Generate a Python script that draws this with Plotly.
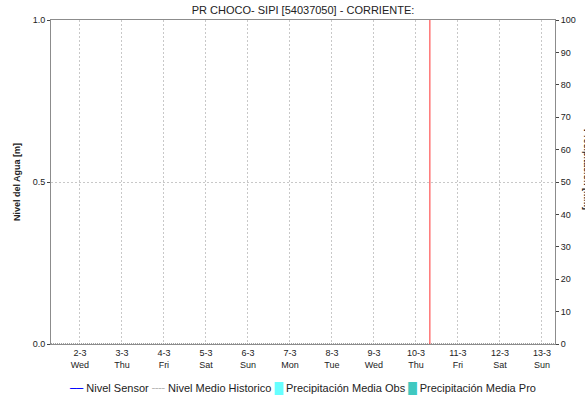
import plotly.graph_objects as go

# ---- data ----
range_start = "2022-03-01 07:30"
range_end = "2022-03-13 07:30"
tick_dates = ["2022-03-02", "2022-03-03", "2022-03-04", "2022-03-05", "2022-03-06", "2022-03-07",
              "2022-03-08", "2022-03-09", "2022-03-10", "2022-03-11", "2022-03-12", "2022-03-13"]
tick_labels = ["2-3<br>Wed", "3-3<br>Thu", "4-3<br>Fri", "5-3<br>Sat", "6-3<br>Sun", "7-3<br>Mon",
               "8-3<br>Tue", "9-3<br>Wed", "10-3<br>Thu", "11-3<br>Fri", "12-3<br>Sat", "13-3<br>Sun"]
base_x = [range_start, range_end]
base_y = [0, 0]
sensor_x = []
sensor_y = []
hist_x = []
hist_y = []
precip_obs_x = []
precip_obs_y = []
precip_pro_x = []
precip_pro_y = []
now_marker = "2022-03-10 08:00"
y_left_ticks = [0.0, 0.5, 1.0]
y_left_labels = ["0.0", "0.5", "1.0"]
y_right_ticks = [0, 10, 20, 30, 40, 50, 60, 70, 80, 90, 100]

series_names = ["Nivel Sensor", "Nivel Medio Historico", "Precipitación Media Obs", "Precipitación Media Pro"]
series_colors = ["#0000ff", "#b8b8b8", "#66ffff", "#40c8c0"]
series_symbols = ["──", "╌╌", "█", "█"]

FONT = "Liberation Sans, Arial, sans-serif"
AXIS_COLOR = "#8c8c8c"
GRID_COLOR = "#c8c8c8"

fig = go.Figure()
fig.add_trace(go.Scatter(x=base_x, y=base_y, mode="lines", showlegend=False, hoverinfo="skip",
                         line=dict(color="#444444", width=1, dash="1px,1px")))
fig.add_trace(go.Scatter(x=sensor_x, y=sensor_y, mode="lines", name=series_names[0], showlegend=False,
                         line=dict(color=series_colors[0], width=1.2)))
fig.add_trace(go.Scatter(x=hist_x, y=hist_y, mode="lines", name=series_names[1], showlegend=False,
                         line=dict(color=series_colors[1], width=1.2, dash="3px,3px")))
fig.add_trace(go.Bar(x=precip_obs_x, y=precip_obs_y, name=series_names[2], showlegend=False,
                     marker=dict(color=series_colors[2]), yaxis="y2"))
fig.add_trace(go.Bar(x=precip_pro_x, y=precip_pro_y, name=series_names[3], showlegend=False,
                     marker=dict(color=series_colors[3]), yaxis="y2"))

fig.add_shape(type="line", xref="x", yref="paper", x0=now_marker, x1=now_marker, y0=0, y1=1,
              line=dict(color="#ff3030", width=1))

# right axis title (partly cut by the page edge, as in the original)
fig.add_annotation(text="<b>Precipitación [mm]</b>", xref="paper", yref="paper", x=1, y=0.54,
                   xanchor="center", yanchor="middle", xshift=32, textangle=90, showarrow=False,
                   font=dict(family=FONT, size=9, color="#222222"))

# legend row
legend_parts = []
for name, color, sym in zip(series_names, series_colors, series_symbols):
    legend_parts.append(
        f"<span style='color:{color};font-family:DejaVu Sans'>{sym}</span> {name}")
fig.add_annotation(text=" ".join(legend_parts), xref="paper", yref="paper",
                   x=0.499, y=-0.136, xanchor="center", yanchor="middle", showarrow=False,
                   font=dict(family=FONT, size=11, color="#222222"))

fig.update_layout(
    width=585, height=401,
    margin=dict(l=51, r=30, t=20, b=57, autoexpand=False),
    paper_bgcolor="white", plot_bgcolor="white",
    font=dict(family=FONT, size=9, color="#222222"),
    title=dict(text="PR CHOCO- SIPI [54037050] - CORRIENTE:", x=0.518, xanchor="center",
               y=0.985, yanchor="top", font=dict(family=FONT, size=11, color="#222222")),
    showlegend=False,
    xaxis=dict(type="date", range=[range_start, range_end], tickmode="array", automargin=False,
               tickvals=tick_dates, ticktext=tick_labels, showgrid=True, gridcolor=GRID_COLOR,
               griddash="2px,2px", gridwidth=1, showline=True, linecolor=AXIS_COLOR, mirror=True,
               ticks="", zeroline=False, tickfont=dict(size=9)),
    yaxis=dict(range=[0, 1], tickmode="array", tickvals=y_left_ticks, ticktext=y_left_labels,
               automargin=False,
               showgrid=True, gridcolor=GRID_COLOR, griddash="2px,2px", gridwidth=1,
               showline=True, linecolor=AXIS_COLOR, mirror=True, ticks="outside", ticklen=3,
               tickcolor="#444444", zeroline=False,
               title=dict(text="<b>Nivel del Agua [m]</b>", font=dict(size=9), standoff=10)),
    yaxis2=dict(range=[0, 100], overlaying="y", side="right", tickmode="array", automargin=False,
                tickvals=y_right_ticks, showgrid=False, showline=True, linecolor=AXIS_COLOR,
                ticks="outside", ticklen=3, tickcolor="#444444", zeroline=False),
    bargap=0.2,
)

fig.write_html("out.html", post_script="document.body.style.margin='0';",
               config={"displayModeBar": False})
